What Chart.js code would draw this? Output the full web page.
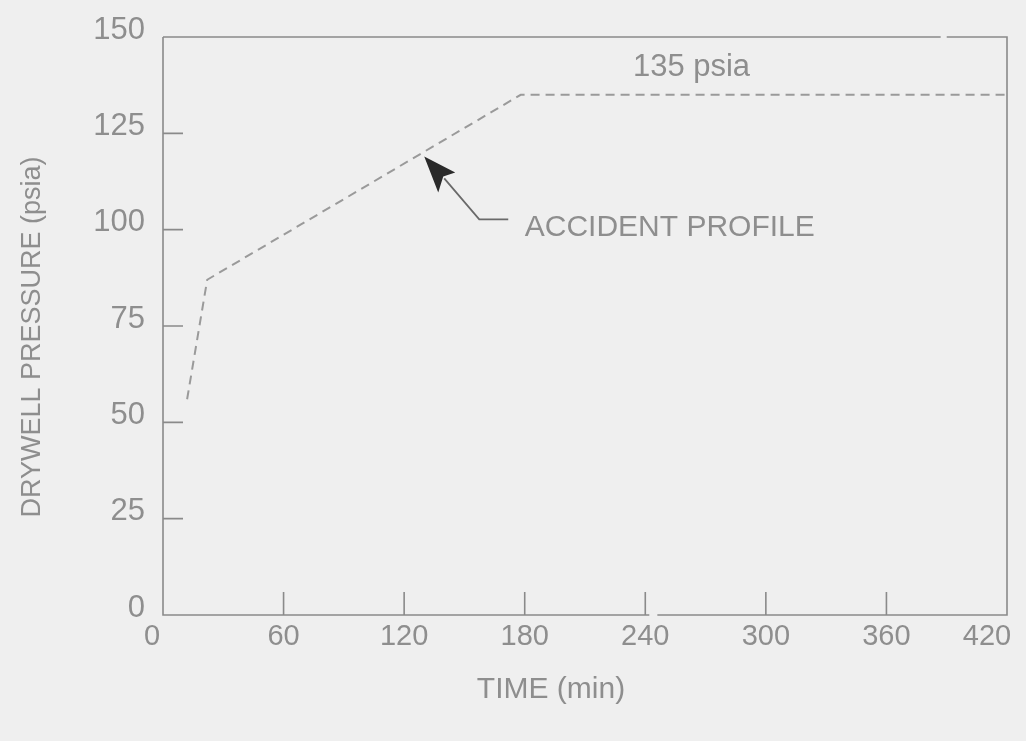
<!DOCTYPE html>
<html>
<head>
<meta charset="utf-8">
<script src="https://cdn.jsdelivr.net/npm/chart.js@4.4.1/dist/chart.umd.min.js"></script>
<style>
  html, body { margin: 0; padding: 0; background: #efefef; }
  #wrap { width: 1026px; height: 741px; }
</style>
</head>
<body>
<div id="wrap"><canvas id="chart" width="1026" height="741"></canvas></div>
<script>
// Drywell pressure vs time, accident profile
const timeMin = [12, 22, 178, 420];
const pressurePsia = [56, 87, 135, 135];

const xTicks = [0, 60, 120, 180, 240, 300, 360, 420];
const yTicks = [0, 25, 50, 75, 100, 125, 150];

const xTitle = 'TIME (min)';
const yTitle = 'DRYWELL PRESSURE (psia)';
const plateauLabel = '135 psia';
const profileLabel = 'ACCIDENT PROFILE';

const INK = '#8e8e8e';
const FRAME = '#8a8a8a';
const FONT = '"Liberation Sans", Arial, sans-serif';

Chart.defaults.font.family = FONT;
Chart.defaults.color = INK;

// frame, inward ticks, time labels, titles and the callout
const decorations = {
  id: 'decorations',
  afterDraw(chart) {
    const { ctx, chartArea: a, scales: { x, y } } = chart;
    ctx.save();
    ctx.strokeStyle = FRAME;
    ctx.lineWidth = 1.6;
    ctx.beginPath();
    ctx.moveTo(a.left, a.top);
    ctx.lineTo(a.left, a.bottom);
    ctx.lineTo(x.getPixelForValue(242), a.bottom);
    ctx.moveTo(x.getPixelForValue(246), a.bottom);
    ctx.lineTo(a.right, a.bottom);
    ctx.lineTo(a.right, a.top);
    ctx.lineTo(x.getPixelForValue(390), a.top);
    ctx.moveTo(x.getPixelForValue(387), a.top);
    ctx.lineTo(a.left, a.top);

    xTicks.slice(1, -1).forEach((v) => {
      const px = x.getPixelForValue(v);
      ctx.moveTo(px, a.bottom);
      ctx.lineTo(px, a.bottom - 23);
    });
    yTicks.slice(1, -1).forEach((v) => {
      const py = y.getPixelForValue(v);
      ctx.moveTo(a.left, py);
      ctx.lineTo(a.left + 20, py);
    });
    ctx.stroke();

    // time labels; the two end ones sit a little inboard
    ctx.fillStyle = INK;
    ctx.textBaseline = 'middle';
    ctx.textAlign = 'center';
    ctx.font = '29px ' + FONT;
    xTicks.forEach((v, i) => {
      let dx = 0;
      if (i === 0) dx = -11;
      if (i === xTicks.length - 1) dx = -20;
      ctx.fillText(String(v), x.getPixelForValue(v) + dx, a.bottom + 22);
    });

    // axis titles
    ctx.font = '30px ' + FONT;
    ctx.fillText(xTitle, 551, 690);
    ctx.save();
    ctx.translate(33, 337);
    ctx.rotate(-Math.PI / 2);
    ctx.font = '27px ' + FONT;
    ctx.fillText(yTitle, 0, 0);
    ctx.restore();

    // labels inside the plot
    ctx.font = '31px ' + FONT;
    ctx.textAlign = 'center';
    ctx.fillText(plateauLabel, x.getPixelForValue(263), y.getPixelForValue(142));
    ctx.textAlign = 'left';
    ctx.font = '30px ' + FONT;
    ctx.fillText(profileLabel, x.getPixelForValue(180), y.getPixelForValue(100.5));

    // arrow pointing at the ramp
    const tx = x.getPixelForValue(130);
    const ty = y.getPixelForValue(119);
    ctx.beginPath();
    ctx.moveTo(tx + 20, ty + 22);
    ctx.lineTo(tx + 55, ty + 63);
    ctx.lineTo(tx + 84, ty + 63);
    ctx.strokeStyle = '#6a6a6a';
    ctx.lineWidth = 1.8;
    ctx.stroke();
    ctx.beginPath();
    ctx.moveTo(tx, ty);
    ctx.lineTo(tx + 31, ty + 16);
    ctx.lineTo(tx + 19, ty + 20);
    ctx.lineTo(tx + 14, ty + 36);
    ctx.closePath();
    ctx.fillStyle = '#2a2a2a';
    ctx.fill();
    ctx.restore();
  }
};

new Chart(document.getElementById('chart'), {
  type: 'line',
  data: {
    datasets: [{
      label: profileLabel,
      data: timeMin.map((t, i) => ({ x: t, y: pressurePsia[i] })),
      borderColor: '#9a9a9a',
      borderWidth: 2,
      borderDash: [9, 6],
      pointRadius: 0,
      tension: 0,
      fill: false,
    }],
  },
  options: {
    responsive: false,
    animation: false,
    layout: { padding: { top: 37, right: 19, left: 0, bottom: 0 } },
    plugins: { legend: { display: false }, tooltip: { enabled: false } },
    scales: {
      x: {
        type: 'linear',
        min: 0,
        max: 420,
        afterBuildTicks: (s) => { s.ticks = xTicks.map((v) => ({ value: v })); },
        afterFit: (s) => { s.height = 126; },
        grid: { display: false },
        border: { display: false },
        ticks: { display: false },
      },
      y: {
        type: 'linear',
        min: 0,
        max: 150,
        afterBuildTicks: (s) => { s.ticks = yTicks.map((v) => ({ value: v })); },
        afterFit: (s) => { s.width = 163; },
        grid: { display: false },
        border: { display: false },
        ticks: { padding: 10, labelOffset: -7, font: { size: 31 } },
      },
    },
  },
  plugins: [decorations],
});
</script>
</body>
</html>
